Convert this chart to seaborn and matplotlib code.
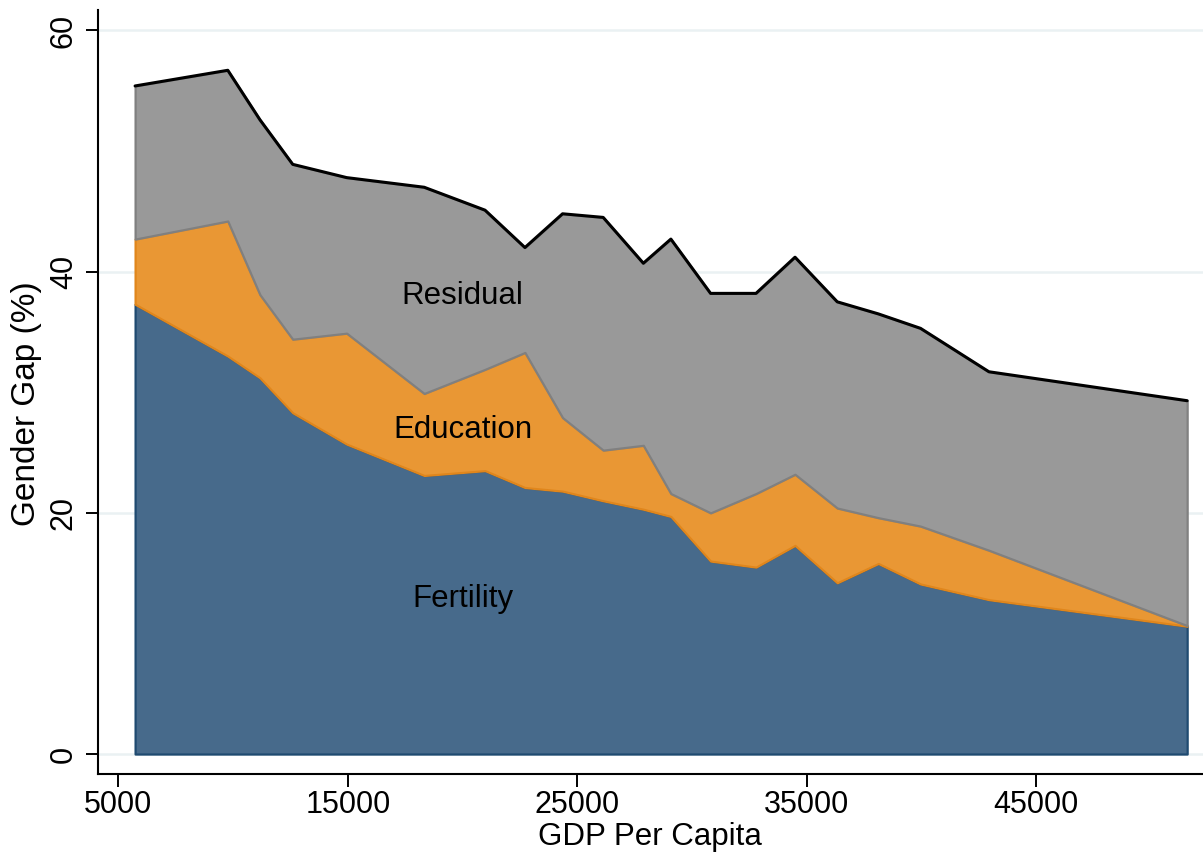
import matplotlib
matplotlib.use("Agg")
import matplotlib.pyplot as plt
import seaborn as sns
import numpy as np
import pandas as pd

# ---- data ----
gdp = [5730, 9770, 11170, 12600, 14950, 18330, 20980, 22720, 24360, 26130,
       27880, 29080, 30810, 32790, 34490, 36330, 38120, 39960, 42940, 51580]
fertility = [37.3, 33.0, 31.2, 28.3, 25.7, 23.1, 23.5, 22.1, 21.8, 21.0,
             20.3, 19.7, 16.0, 15.5, 17.3, 14.2, 15.8, 14.1, 12.8, 10.6]
education = [5.4, 11.2, 6.9, 6.1, 9.2, 6.8, 8.4, 11.2, 6.1, 4.2,
             5.3, 1.9, 4.0, 6.1, 5.9, 6.2, 3.8, 4.8, 4.1, 0.05]
residual = [12.7, 12.5, 14.5, 14.5, 12.9, 17.1, 13.2, 8.7, 16.9, 19.3,
            15.1, 21.1, 18.2, 16.6, 18.0, 17.1, 16.9, 16.4, 14.8, 18.65]

x_ticks = [5000, 15000, 25000, 35000, 45000]
y_ticks = [0, 20, 40, 60]

df = pd.DataFrame({"gdp": gdp, "Fertility": fertility,
                   "Education": education, "Residual": residual})
df["fert_top"] = df["Fertility"]
df["edu_top"] = df["fert_top"] + df["Education"]
df["res_top"] = df["edu_top"] + df["Residual"]

sns.set_theme(style="white")
plt.rcParams["font.family"] = ["Liberation Sans", "DejaVu Sans"]
plt.rcParams["text.color"] = "black"
plt.rcParams["axes.labelcolor"] = "black"
plt.rcParams["xtick.color"] = "black"
plt.rcParams["ytick.color"] = "black"

fig = plt.figure(figsize=(12.03, 8.61), dpi=100)
ax = fig.add_axes([0.0812, 0.1014, 0.9188, 0.887])

grid_c = "#eaf1f3"
for yv in y_ticks:
    ax.axhline(yv, color=grid_c, lw=1.8, zorder=0)

blue_f, blue_e = "#476a8b", "#1f4a70"
orange_f, orange_e = "#e99734", "#e0861c"
grey_f, grey_e = "#999999", "#808080"

ax.fill_between(df["gdp"], 0, df["fert_top"], facecolor=blue_f,
                edgecolor=blue_e, lw=1.6, zorder=2)
ax.fill_between(df["gdp"], df["fert_top"], df["edu_top"], facecolor=orange_f,
                edgecolor=orange_e, lw=1.6, zorder=3)
ax.fill_between(df["gdp"], df["edu_top"], df["res_top"], facecolor=grey_f,
                edgecolor=grey_e, lw=1.6, zorder=4)
sns.lineplot(data=df, x="gdp", y="res_top", color="black", lw=2.2,
             ax=ax, zorder=5, legend=False)

for name, yv in [("Residual", 37.95), ("Education", 26.86), ("Fertility", 12.86)]:
    ax.text(20000, yv, name, ha="center", va="center", fontsize=22.5,
            color="black", zorder=6)

ax.set_xlim(4100, 52270)
ax.set_ylim(-1.63, 61.7)
ax.set_xticks(x_ticks)
ax.set_xticklabels([str(v) for v in x_ticks])
ax.set_yticks(y_ticks)
ax.set_yticklabels([str(v) for v in y_ticks], rotation=90, va="center")

ax.set_xlabel("GDP Per Capita", fontsize=22.5, labelpad=2)
ax.set_ylabel("Gender Gap (%)", fontsize=24)
ax.yaxis.set_label_coords(-0.050, 0.484)

for s in ["top", "right"]:
    ax.spines[s].set_visible(False)
for s in ["left", "bottom"]:
    ax.spines[s].set_color("black")
    ax.spines[s].set_linewidth(1.5)

ax.tick_params(axis="both", which="major", direction="out", length=9,
               width=1.4, color="black", labelsize=22, bottom=True, left=True)
ax.tick_params(axis="x", pad=2.5)
ax.tick_params(axis="y", pad=4.5)

fig.savefig("out.png", dpi=100)
